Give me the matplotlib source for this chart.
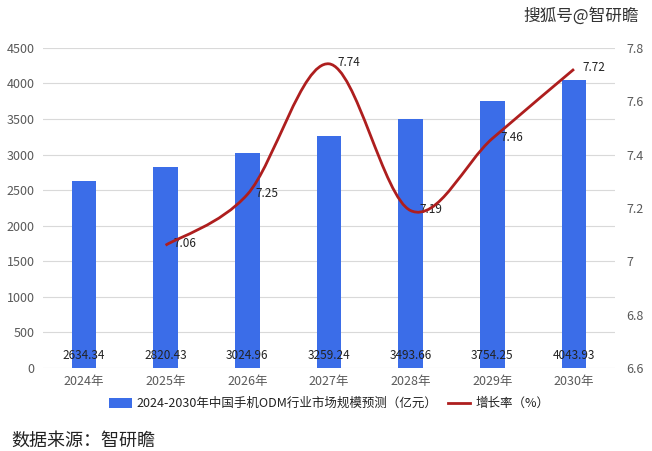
import matplotlib
matplotlib.use('Agg')
import matplotlib.pyplot as plt
from matplotlib.path import Path
from matplotlib.patches import PathPatch
from matplotlib.lines import Line2D
from matplotlib.patches import Patch

plt.rcParams['font.family'] = ['Noto Sans CJK SC', 'DejaVu Sans']

# data
years = ['2024年', '2025年', '2026年', '2027年', '2028年', '2029年', '2030年']
market_size = [2634.34, 2820.43, 3024.96, 3259.24, 3493.66, 3754.25, 4043.93]
growth_idx = [1, 2, 3, 4, 5, 6]
growth_rate = [7.06, 7.25, 7.74, 7.19, 7.46, 7.72]

bar_color = '#3B6DE8'
line_color = '#AE1E1E'
tick_color = '#595959'

fig = plt.figure(figsize=(6.52, 4.51), dpi=100)
ax1 = fig.add_axes([0.066, 0.184, 0.877, 0.710])
ax2 = ax1.twinx()

x = list(range(len(years)))
ax1.bar(x, market_size, 0.3, color=bar_color, zorder=2)
ax1.set_xlim(-0.5, len(years) - 0.5)
ax1.set_ylim(0, 4500)
ax1.set_yticks(range(0, 4501, 500))
ax1.grid(axis='y', color='#D9D9D9', linewidth=0.8, zorder=0)
ax1.set_axisbelow(True)
ax1.set_xticks(x)
ax1.set_xticklabels(years)

for xi, v in zip(x, market_size):
    ax1.text(xi, 180, f'{v:.2f}', ha='center', va='center', fontsize=8.5, color='#222222', zorder=3)

# smoothed line (Catmull-Rom -> cubic Bezier, like Excel smoothing)
pts = list(zip(growth_idx, growth_rate))
verts = [pts[0]]
codes = [Path.MOVETO]
n = len(pts)
for i in range(n - 1):
    p0 = pts[i - 1] if i > 0 else pts[i]
    p1 = pts[i]
    p2 = pts[i + 1]
    p3 = pts[i + 2] if i + 2 < n else pts[i + 1]
    c1 = (p1[0] + (p2[0] - p0[0]) / 6, p1[1] + (p2[1] - p0[1]) / 6)
    c2 = (p2[0] - (p3[0] - p1[0]) / 6, p2[1] - (p3[1] - p1[1]) / 6)
    verts += [c1, c2, p2]
    codes += [Path.CURVE4] * 3
ax2.add_patch(PathPatch(Path(verts, codes), facecolor='none', edgecolor=line_color, linewidth=2, zorder=4))
ax2.set_ylim(6.6, 7.8)
ax2.set_yticks([6.6, 6.8, 7.0, 7.2, 7.4, 7.6, 7.8])
ax2.set_yticklabels(['6.6', '6.8', '7', '7.2', '7.4', '7.6', '7.8'])

for xi, v in zip(growth_idx, growth_rate):
    ax2.annotate(f'{v:.2f}', (xi, v), xytext=(6, 1), textcoords='offset points',
                 ha='left', va='center', fontsize=8.5, color='#222222')

for ax in (ax1, ax2):
    for s in ax.spines.values():
        s.set_visible(False)
    ax.tick_params(length=0, labelsize=9, colors=tick_color)
ax1.tick_params(axis='y', pad=6)
ax2.tick_params(axis='y', pad=8)
ax1.tick_params(axis='x', pad=5)

handles = [Patch(facecolor=bar_color), Line2D([0], [0], color=line_color, linewidth=2)]
labels = ['2024-2030年中国手机ODM行业市场规模预测（亿元）', '增长率（%）']
fig.legend(handles, labels, loc='center', bbox_to_anchor=(0.505, 0.105), ncol=2,
           frameon=False, fontsize=9, handlelength=1.8, handleheight=0.8,
           columnspacing=0.8, handletextpad=0.4, labelcolor='#222222')

fig.text(0.018, 0.024, '数据来源：智研瞻', fontsize=13, color='#222222', ha='left', va='center')
fig.text(0.98, 0.965, '搜狐号@智研瞻', fontsize=12, color='#333333', ha='right', va='center')

fig.savefig('out.png', dpi=100)
